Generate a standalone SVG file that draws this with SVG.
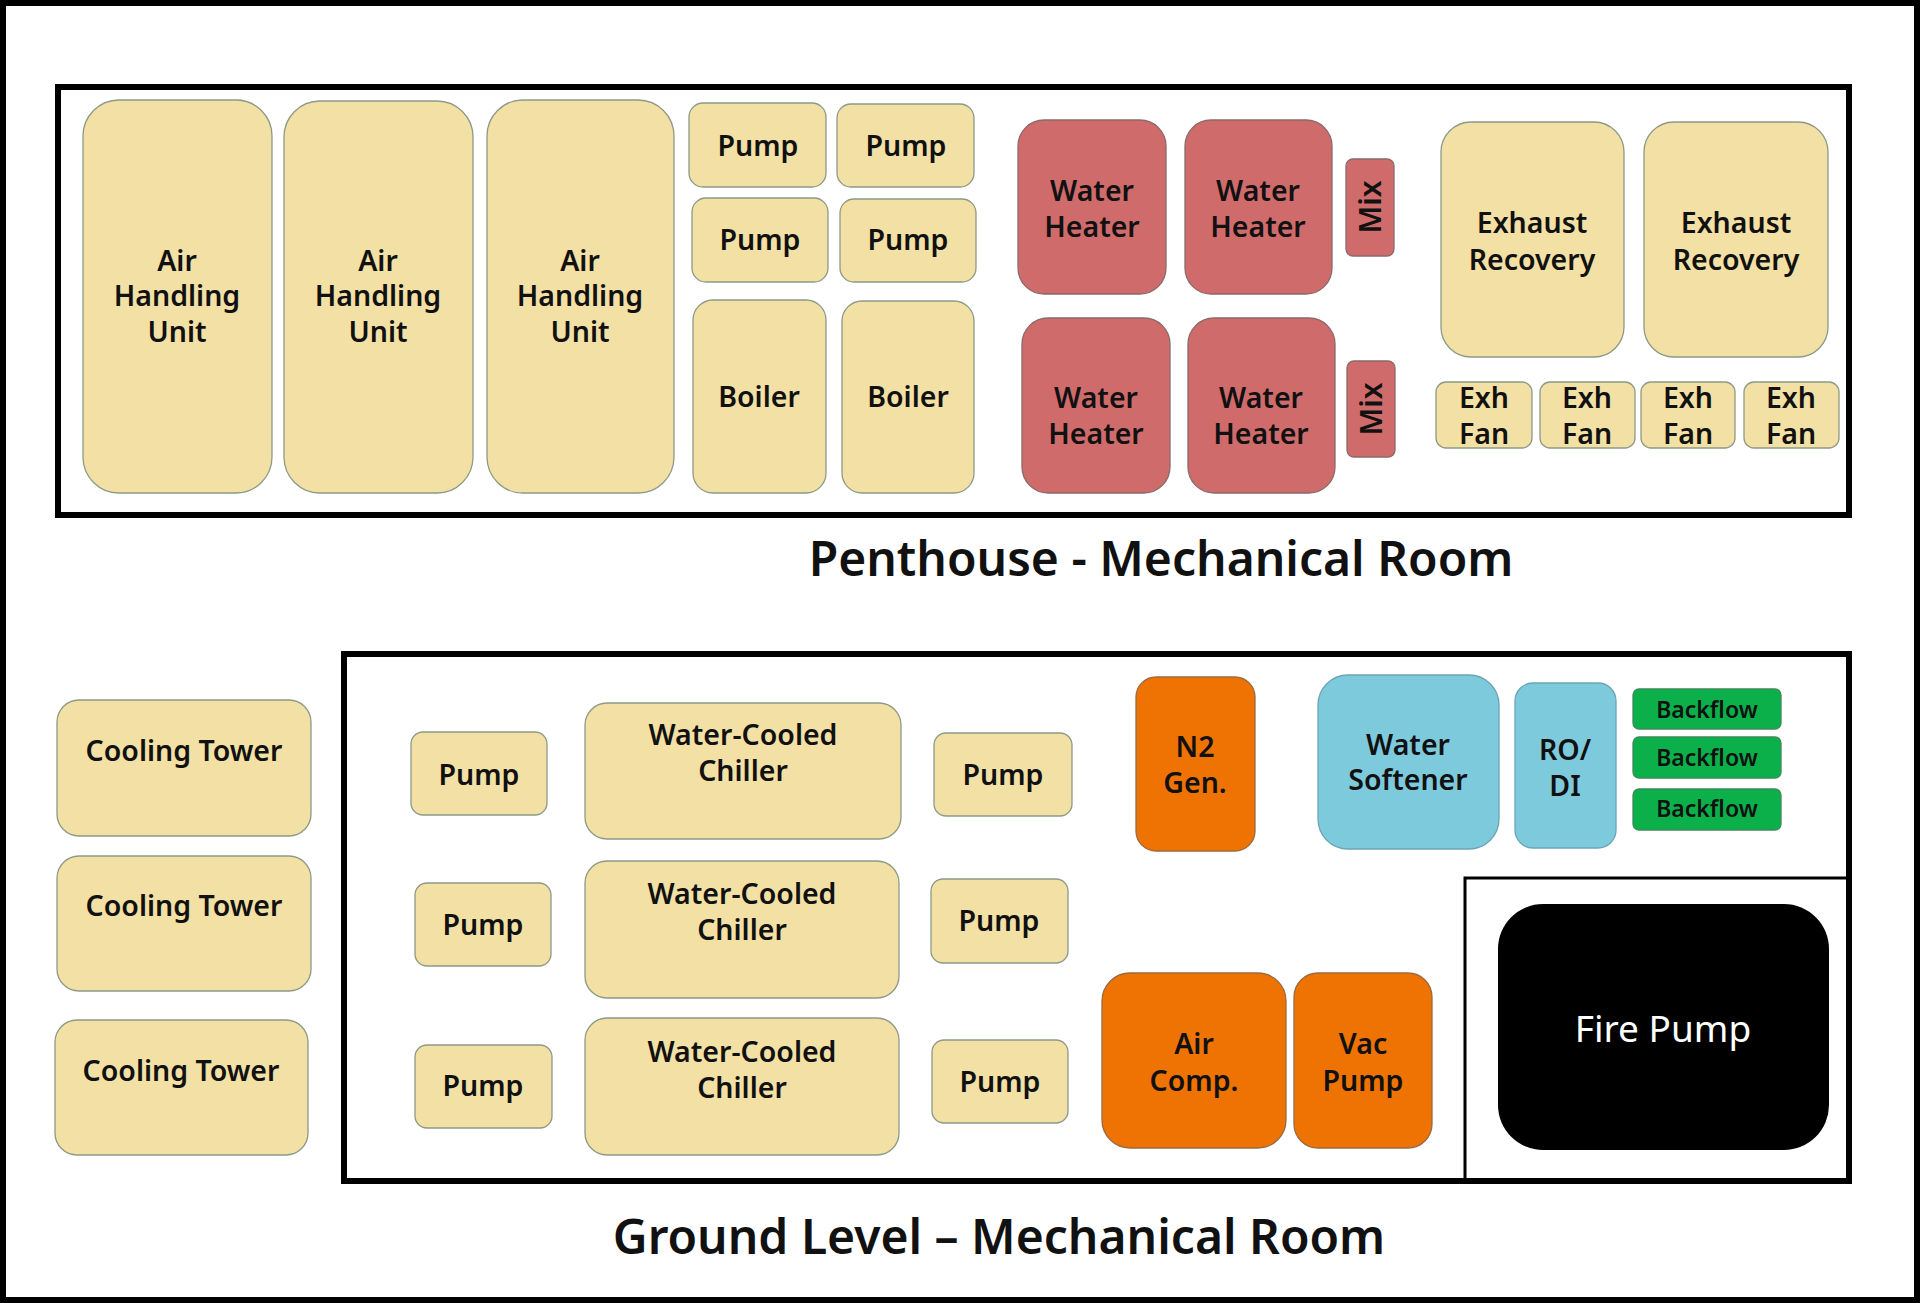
<svg xmlns="http://www.w3.org/2000/svg" width="1920" height="1303" viewBox="0 0 1920 1303">
<style>
.room{fill:none;stroke:#000;stroke-width:6}
.b{fill:#f3e0a4;stroke:#8c9a86;stroke-width:1.3}
.r{fill:#d06b6b;stroke:#8a6a6a;stroke-width:1.3}
.o{fill:#ee7302;stroke:#9a6a40;stroke-width:1.3}
.c{fill:#7ecadd;stroke:#6aa5b5;stroke-width:1.3}
.g{fill:#0bb04b;stroke:#3d8a5a;stroke-width:1.3}
.k{fill:#000}
text{font-family:"Noto Sans","Open Sans","Liberation Sans",sans-serif;font-weight:600;text-anchor:middle;fill:#111}
.t{font-size:28.5px}
.m{font-size:30px}
.s{font-size:23px}
.w{font-size:37px;font-weight:400;fill:#fff}
.h{font-size:48px}
</style>
<rect x="3" y="3" width="1914" height="1297" fill="#fff" stroke="#000" stroke-width="6"/>
<g id="rooms">
<rect class="room" x="58" y="87" width="1791" height="428"/>
<rect class="room" x="344" y="654" width="1505" height="527"/>
<polyline points="1465,1181 1465,878 1849,878" fill="none" stroke="#000" stroke-width="3"/>
</g>
<g id="connectors"></g>
<g id="ahu1"><rect class="b" x="83" y="100" width="189" height="393" rx="36"/><text class="t" x="177" y="271">Air</text><text class="t" x="177" y="306">Handling</text><text class="t" x="177" y="342">Unit</text></g>
<g id="ahu2"><rect class="b" x="284" y="101" width="189" height="392" rx="36"/><text class="t" x="378" y="271">Air</text><text class="t" x="378" y="306">Handling</text><text class="t" x="378" y="342">Unit</text></g>
<g id="ahu3"><rect class="b" x="487" y="100" width="187" height="393" rx="36"/><text class="t" x="580" y="271">Air</text><text class="t" x="580" y="306">Handling</text><text class="t" x="580" y="342">Unit</text></g>
<g id="pump1"><rect class="b" x="689" y="103" width="137" height="84" rx="14"/><text class="t" x="758" y="156">Pump</text></g>
<g id="pump2"><rect class="b" x="837" y="104" width="137" height="83" rx="14"/><text class="t" x="906" y="156">Pump</text></g>
<g id="pump3"><rect class="b" x="692" y="198" width="136" height="84" rx="14"/><text class="t" x="760" y="250">Pump</text></g>
<g id="pump4"><rect class="b" x="840" y="199" width="136" height="83" rx="14"/><text class="t" x="908" y="250">Pump</text></g>
<g id="boiler1"><rect class="b" x="693" y="300" width="133" height="193" rx="20"/><text class="t" x="759" y="407">Boiler</text></g>
<g id="boiler2"><rect class="b" x="842" y="301" width="132" height="192" rx="20"/><text class="t" x="908" y="407">Boiler</text></g>
<g id="wh1"><rect class="r" x="1018" y="120" width="148" height="174" rx="26"/><text class="t" x="1092" y="201">Water</text><text class="t" x="1092" y="237">Heater</text></g>
<g id="wh2"><rect class="r" x="1185" y="120" width="147" height="174" rx="26"/><text class="t" x="1258" y="201">Water</text><text class="t" x="1258" y="237">Heater</text></g>
<g id="wh3"><rect class="r" x="1022" y="318" width="148" height="175" rx="26"/><text class="t" x="1096" y="408">Water</text><text class="t" x="1096" y="444">Heater</text></g>
<g id="wh4"><rect class="r" x="1188" y="318" width="147" height="175" rx="26"/><text class="t" x="1261" y="408">Water</text><text class="t" x="1261" y="444">Heater</text></g>
<g id="mix1"><rect class="r" x="1346" y="159" width="48" height="97" rx="7"/><text class="m" transform="translate(1381,207) rotate(-90)" x="0" y="0">Mix</text></g>
<g id="mix2"><rect class="r" x="1347" y="361" width="48" height="96" rx="7"/><text class="m" transform="translate(1382,409) rotate(-90)" x="0" y="0">Mix</text></g>
<g id="er1"><rect class="b" x="1441" y="122" width="183" height="235" rx="30"/><text class="t" x="1532" y="233">Exhaust</text><text class="t" x="1532" y="270">Recovery</text></g>
<g id="er2"><rect class="b" x="1644" y="122" width="184" height="235" rx="30"/><text class="t" x="1736" y="233">Exhaust</text><text class="t" x="1736" y="270">Recovery</text></g>
<g id="fan1"><rect class="b" x="1436" y="382" width="96" height="66" rx="10"/><text class="t" x="1484" y="408">Exh</text><text class="t" x="1484" y="444">Fan</text></g>
<g id="fan2"><rect class="b" x="1540" y="382" width="95" height="66" rx="10"/><text class="t" x="1587" y="408">Exh</text><text class="t" x="1587" y="444">Fan</text></g>
<g id="fan3"><rect class="b" x="1641" y="382" width="94" height="66" rx="10"/><text class="t" x="1688" y="408">Exh</text><text class="t" x="1688" y="444">Fan</text></g>
<g id="fan4"><rect class="b" x="1744" y="382" width="95" height="66" rx="10"/><text class="t" x="1791" y="408">Exh</text><text class="t" x="1791" y="444">Fan</text></g>
<g id="title1"><text class="h" x="1161" y="576">Penthouse - Mechanical Room</text></g>
<g id="ct1"><rect class="b" x="57" y="700" width="254" height="136" rx="22"/><text class="t" x="184" y="761">Cooling Tower</text></g>
<g id="ct2"><rect class="b" x="57" y="856" width="254" height="135" rx="22"/><text class="t" x="184" y="916">Cooling Tower</text></g>
<g id="ct3"><rect class="b" x="55" y="1020" width="253" height="135" rx="22"/><text class="t" x="181" y="1081">Cooling Tower</text></g>
<g id="gpump1"><rect class="b" x="411" y="732" width="136" height="83" rx="12"/><text class="t" x="479" y="785">Pump</text></g>
<g id="chiller1"><rect class="b" x="585" y="703" width="316" height="136" rx="22"/><text class="t" x="743" y="745">Water-Cooled</text><text class="t" x="743" y="781">Chiller</text></g>
<g id="gpump2"><rect class="b" x="934" y="733" width="138" height="83" rx="12"/><text class="t" x="1003" y="785">Pump</text></g>
<g id="gpump3"><rect class="b" x="415" y="883" width="136" height="83" rx="12"/><text class="t" x="483" y="935">Pump</text></g>
<g id="chiller2"><rect class="b" x="585" y="861" width="314" height="137" rx="22"/><text class="t" x="742" y="904">Water-Cooled</text><text class="t" x="742" y="940">Chiller</text></g>
<g id="gpump4"><rect class="b" x="931" y="879" width="137" height="84" rx="12"/><text class="t" x="999" y="931">Pump</text></g>
<g id="gpump5"><rect class="b" x="415" y="1045" width="137" height="83" rx="12"/><text class="t" x="483" y="1096">Pump</text></g>
<g id="chiller3"><rect class="b" x="585" y="1018" width="314" height="137" rx="22"/><text class="t" x="742" y="1062">Water-Cooled</text><text class="t" x="742" y="1098">Chiller</text></g>
<g id="gpump6"><rect class="b" x="932" y="1040" width="136" height="83" rx="12"/><text class="t" x="1000" y="1092">Pump</text></g>
<g id="n2gen"><rect class="o" x="1136" y="677" width="119" height="174" rx="20"/><text class="t" x="1195" y="757">N2</text><text class="t" x="1195" y="793">Gen.</text></g>
<g id="softener"><rect class="c" x="1318" y="675" width="181" height="174" rx="30"/><text class="t" x="1408" y="755">Water</text><text class="t" x="1408" y="790">Softener</text></g>
<g id="rodi"><rect class="c" x="1515" y="683" width="101" height="165" rx="18"/><text class="t" x="1565" y="760">RO/</text><text class="t" x="1565" y="796">DI</text></g>
<g id="backflow1"><rect class="g" x="1633" y="689" width="148" height="40" rx="6"/><text class="s" x="1707" y="718">Backflow</text></g>
<g id="backflow2"><rect class="g" x="1633" y="737" width="148" height="41" rx="6"/><text class="s" x="1707" y="766">Backflow</text></g>
<g id="backflow3"><rect class="g" x="1633" y="789" width="148" height="41" rx="6"/><text class="s" x="1707" y="817">Backflow</text></g>
<g id="aircomp"><rect class="o" x="1102" y="973" width="184" height="175" rx="28"/><text class="t" x="1194" y="1054">Air</text><text class="t" x="1194" y="1091">Comp.</text></g>
<g id="vacpump"><rect class="o" x="1294" y="973" width="138" height="175" rx="24"/><text class="t" x="1363" y="1054">Vac</text><text class="t" x="1363" y="1091">Pump</text></g>
<g id="firepump"><rect class="k" x="1498" y="904" width="331" height="246" rx="45"/><text class="w" x="1663" y="1042">Fire Pump</text></g>
<g id="title2"><text class="h" x="999" y="1254">Ground Level – Mechanical Room</text></g>
</svg>
